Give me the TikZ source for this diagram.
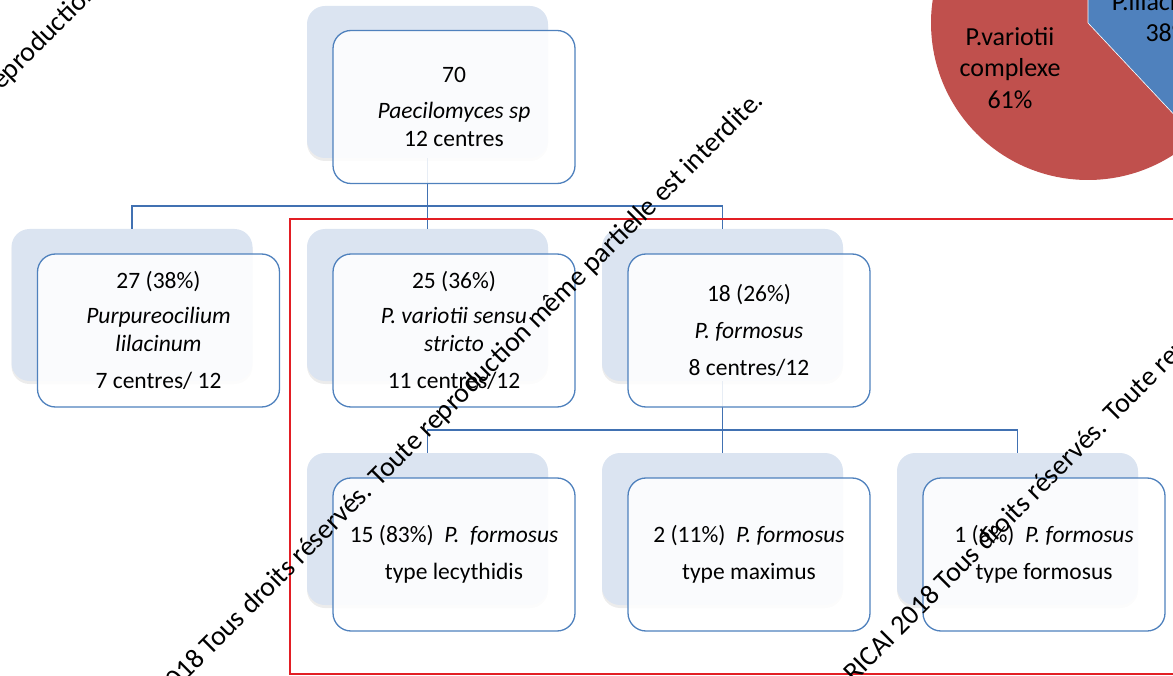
\documentclass[tikz,border=0pt]{standalone}
\usepackage{fontspec}
\setmainfont{Carlito}
\usetikzlibrary{shadows}

\definecolor{boxblue}{RGB}{79,129,189}
\definecolor{backblue}{RGB}{219,228,241}
\definecolor{linkblue}{RGB}{65,113,178}
\definecolor{framered}{RGB}{226,30,36}
\definecolor{piered}{RGB}{192,80,77}
\definecolor{pieblue}{RGB}{79,129,189}

\tikzset{
  back/.style={fill=backblue, rounded corners=18pt, minimum width=241pt, minimum height=152pt,
    drop shadow={shadow xshift=0pt, shadow yshift=-3pt, opacity=0.15}},
  front/.style={draw=boxblue, line width=1.3pt, fill=white, fill opacity=0.88, text opacity=1,
    rounded corners=18pt, minimum width=242pt, minimum height=153pt, align=center,
    font=\fontsize{23.5}{28.2}\selectfont},
  link/.style={draw=linkblue, line width=1.5pt},
  wmark/.style={rotate=45, anchor=base east, inner sep=0pt, font=\fontsize{27.8}{30}\selectfont},
  pielabel/.style={align=center, inner sep=0pt, font=\fontsize{26}{31.5}\selectfont}
}

\begin{document}
\begin{tikzpicture}[x=1pt, y=-1pt]
    \useasboundingbox (0,0) rectangle (1173,676);

    % Pie chart cut by the corner
    \fill[piered] (1088,23) -- ++(46.8:157) arc[start angle=46.8, end angle=270, radius=157] -- cycle;
    \fill[pieblue] (1088,23) -- ++(-90:157) arc[start angle=-90, end angle=46.8, radius=157] -- cycle;
    \draw[white, line width=0.6pt] (1088,23) -- ++(-90:157) (1088,23) -- ++(46.8:157);
    \node[pielabel] (varlabel) at (1010,68) {P.variotii\\complexe\\61\%};
    \node[pielabel] (lilaclabel) at (1168,17) {P.lilacinum\\38\%};

    % Back panels
    \node[back] (topback) at (427.5,82) {};
    \node[back] (leftback) at (132,305) {};
    \node[back] (varback) at (427.5,305) {};
    \node[back] (formback) at (722.5,305) {};
    \node[back] (lecyback) at (427.5,529) {};
    \node[back] (maxiback) at (722.5,529) {};
    \node[back] (typeback) at (1017.5,529) {};

    % Tree lines
    \coordinate (bus1) at (427.5,206);
    \coordinate (bus2) at (722.5,430);
    \draw[link] (topback.south) -- (bus1);
    \draw[link] (leftback.north) |- (bus1) -| (formback.north);
    \draw[link] (bus1) -- (varback.north);
    \draw[link] (formback.south) -- (bus2);
    \draw[link] (lecyback.north) |- (bus2) -| (typeback.north);
    \draw[link] (bus2) -- (maxiback.north);

    % Front boxes
    \node[front] (top) at (454,107) {70\\[7pt]\textit{Paecilomyces sp}\\12 centres};
    \node[front] (lila) at (158.5,330.5) {27 (38\%)\\[7pt]\textit{Purpureocilium}\\\textit{lilacinum}\\[9pt]7 centres/ 12};
    \node[front] (vari) at (454,330.5) {25 (36\%)\\[7pt]\textit{P. variotii sensu}\\\textit{stricto}\\[9pt]11 centres/12};
    \node[front] (form) at (749,330.5) {18 (26\%)\\[8pt]\textit{P. formosus}\\[9pt]8 centres/12};
    \node[front] (lecy) at (454,554.5) {15 (83\%)\ \ \textit{P.\ \ formosus}\\[9pt]type lecythidis};
    \node[front] (maxi) at (749,554.5) {2 (11\%)\ \ \textit{P. formosus}\\[9pt]type maximus};
    \node[front] (type) at (1044,554.5) {1 (6\%)\ \ \textit{P. formosus}\\[9pt]type formosus};

    % Red frame round the P. variotii complex
    \draw[framered, line width=2pt] (290,219) rectangle (1185,674);

    % Diagonal watermark
    \node[wmark] (wm1) at (331,-239) {© RICAI 2018 Tous droits réservés. Toute reproduction même partielle est interdite.};
    \node[wmark] (wm2) at (765,102) {© RICAI 2018 Tous droits réservés. Toute reproduction même partielle est interdite.};
    \node[wmark] (wm3) at (1500,38) {© RICAI 2018 Tous droits réservés. Toute reproduction même partielle est interdite.};
\end{tikzpicture}
\end{document}
